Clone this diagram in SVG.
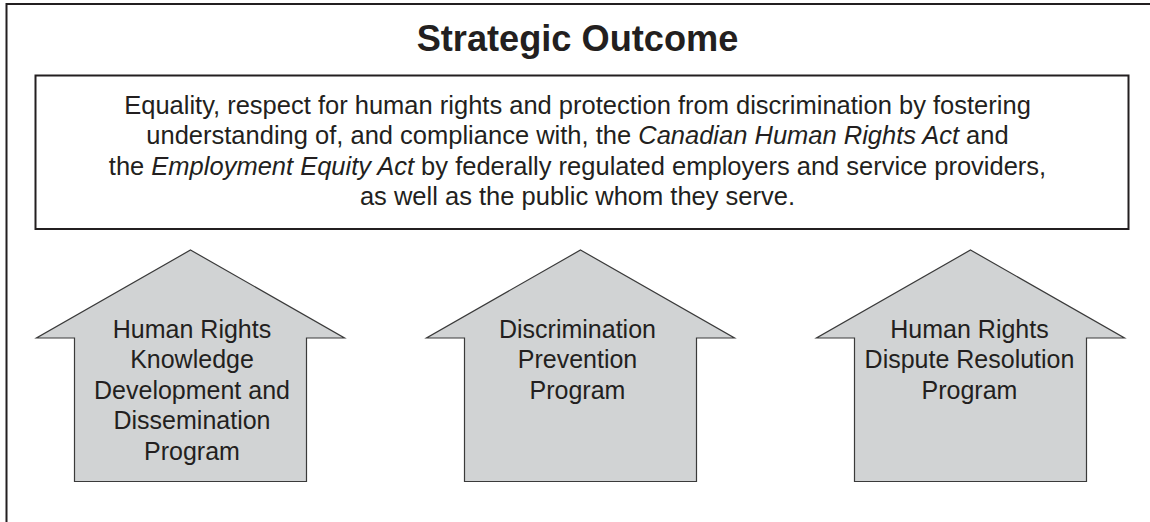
<svg xmlns="http://www.w3.org/2000/svg" width="1150" height="522" viewBox="0 0 1150 522">
  <style>
    .txt { font-family: "Liberation Sans", Arial, sans-serif; font-size: 25px; fill: #231f20; text-anchor: middle; }
    .body { font-size: 25.5px; }
    .title { font-family: "Liberation Sans", Arial, sans-serif; font-size: 36.2px; font-weight: bold; fill: #231f20; text-anchor: middle; }
    .it { font-style: italic; }
    .arrow { fill: #d1d3d4; stroke: #3a3a3a; stroke-width: 1.2; stroke-linejoin: miter; }
    .frame { fill: none; stroke: #231f20; stroke-width: 2; }
  </style>
  <rect x="0" y="0" width="1150" height="522" fill="#ffffff"/>
  <g id="frame">
    <path class="frame" d="M6.5,522 V4 H1150"/>
  </g>
  <g id="title">
    <text class="title" x="577.5" y="51">Strategic Outcome</text>
  </g>
  <g id="outcome">
    <rect class="frame" x="35.5" y="75.5" width="1093" height="153.5"/>
    <text class="txt body" x="577.5" y="113.5">Equality, respect for human rights and protection from discrimination by fostering</text>
    <text class="txt body" x="577.5" y="144">understanding of, and compliance with, the <tspan class="it">Canadian Human Rights Act</tspan> and</text>
    <text class="txt body" x="577.5" y="174.5">the <tspan class="it">Employment Equity Act</tspan> by federally regulated employers and service providers,</text>
    <text class="txt body" x="577.5" y="205">as well as the public whom they serve.</text>
  </g>
  <g id="connectors"></g>
  <g id="program1">
    <path class="arrow" d="M190.5,250 L344.5,338 H306.5 V481.5 H74.5 V338 H36.5 Z"/>
    <text class="txt" x="192" y="337.7">Human Rights</text>
    <text class="txt" x="192" y="368">Knowledge</text>
    <text class="txt" x="192" y="398.5">Development and</text>
    <text class="txt" x="192" y="429">Dissemination</text>
    <text class="txt" x="192" y="459.5">Program</text>
  </g>
  <g id="program2">
    <path class="arrow" d="M580.5,250 L734.5,338 H696.5 V481.5 H464.5 V338 H426.5 Z"/>
    <text class="txt" x="577.5" y="337.7">Discrimination</text>
    <text class="txt" x="577.5" y="368">Prevention</text>
    <text class="txt" x="577.5" y="398.5">Program</text>
  </g>
  <g id="program3">
    <path class="arrow" d="M970.5,250 L1124.5,338 H1086.5 V481.5 H854.5 V338 H816.5 Z"/>
    <text class="txt" x="969.5" y="337.7">Human Rights</text>
    <text class="txt" x="969.5" y="368">Dispute Resolution</text>
    <text class="txt" x="969.5" y="398.5">Program</text>
  </g>
</svg>
